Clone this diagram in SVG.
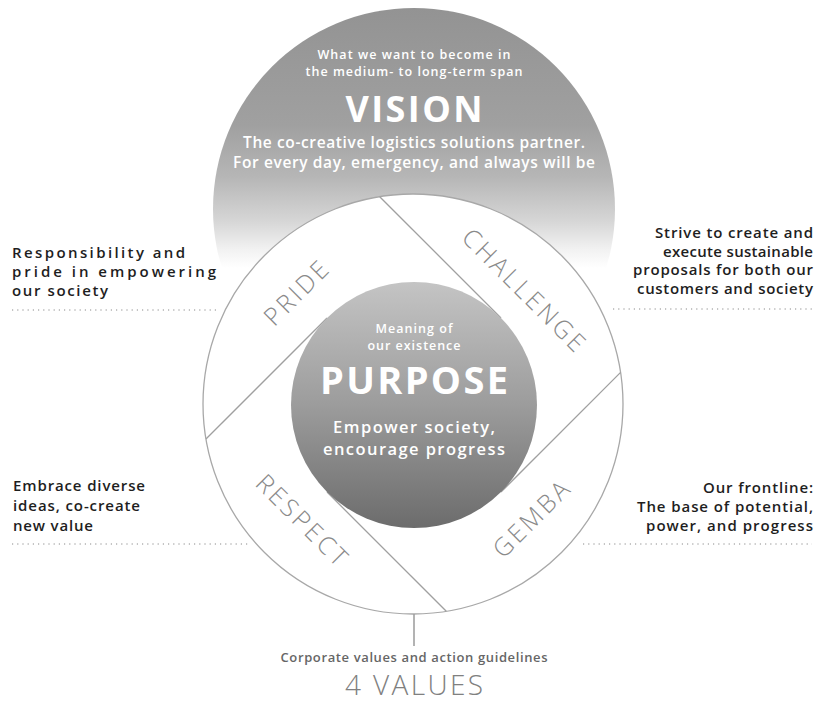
<svg xmlns="http://www.w3.org/2000/svg" width="816" height="703" viewBox="0 0 816 703">
  <defs>
    <linearGradient id="visionFill" gradientUnits="userSpaceOnUse" x1="0" y1="8" x2="0" y2="268">
      <stop offset="0" stop-color="#939393"/>
      <stop offset="0.45" stop-color="#a0a0a0"/>
      <stop offset="0.65" stop-color="#b6b6b6"/>
      <stop offset="0.82" stop-color="#d6d6d6"/>
      <stop offset="0.93" stop-color="#f2f2f2"/>
      <stop offset="1" stop-color="#ffffff"/>
    </linearGradient>
    <linearGradient id="purposeFill" gradientUnits="userSpaceOnUse" x1="0" y1="282" x2="0" y2="528">
      <stop offset="0" stop-color="#c4c4c4"/>
      <stop offset="0.5" stop-color="#9c9c9c"/>
      <stop offset="1" stop-color="#6c6c6c"/>
    </linearGradient>
    <style>
      text { font-family: "Open Sans", "Liberation Sans", sans-serif; }
      .side { font-size: 15px; font-weight: 600; fill: #1e1e1e; }
      .end { text-anchor: end; }
      .mid { text-anchor: middle; }
      .inv { fill: #ffffff; font-weight: 600; text-anchor: middle; }
      .small { font-size: 12.5px; }
      .body { font-size: 15.5px; }
      .head { font-weight: 700; }
      .ring { font-size: 25px; font-weight: 300; letter-spacing: 3px; fill: #8a8a8a; text-anchor: middle; }
      .divider { stroke: #a0a0a0; stroke-width: 1.3; fill: none; }
      .dots { stroke: #8a8a8a; stroke-width: 1; stroke-dasharray: 1.2 4; fill: none; }
      .stem { stroke: #a0a0a0; stroke-width: 1.6; }
    </style>
  </defs>

  <rect width="816" height="703" fill="#ffffff"/>

  <!-- vision disc, fading out towards the bottom -->
  <g id="vision">
    <circle cx="414" cy="209" r="201" fill="url(#visionFill)"/>
    <text class="inv small" x="414" y="59" textLength="193" lengthAdjust="spacing">What we want to become in</text>
    <text class="inv small" x="414" y="76" textLength="217" lengthAdjust="spacing">the medium- to long-term span</text>
    <text class="inv head" x="414" y="122" font-size="36" textLength="137" lengthAdjust="spacing">VISION</text>
    <text class="inv body" x="414" y="148" textLength="342" lengthAdjust="spacing">The co-creative logistics solutions partner.</text>
    <text class="inv body" x="414" y="168" textLength="362" lengthAdjust="spacing">For every day, emergency, and always will be</text>
  </g>

  <!-- ring holding the four values -->
  <g id="values-ring">
    <circle cx="413" cy="404" r="210" fill="#ffffff" stroke="#a8a8a8" stroke-width="1.3"/>
  </g>

  <g id="connectors">
    <!-- dividers, each tangent to the purpose disc -->
    <line class="divider" x1="379.7" y1="196.7" x2="501" y2="318"/>
    <line class="divider" x1="206" y1="439" x2="327" y2="318"/>
    <line class="divider" x1="620.6" y1="372.4" x2="501" y2="492"/>
    <line class="divider" x1="446.3" y1="611.3" x2="327" y2="492"/>
    <!-- dotted leaders under the notes -->
    <line class="dots" x1="12" y1="310" x2="216" y2="310"/>
    <line class="dots" x1="613" y1="309" x2="812" y2="309"/>
    <line class="dots" x1="12" y1="544" x2="248" y2="544"/>
    <line class="dots" x1="583" y1="544" x2="812" y2="544"/>
    <!-- stem to the caption -->
    <line class="stem" x1="414" y1="614" x2="414" y2="646"/>
  </g>

  <g id="purpose">
    <circle cx="414" cy="405" r="123" fill="url(#purposeFill)"/>
    <text class="inv" x="414" y="333" font-size="12.5" textLength="77" lengthAdjust="spacing">Meaning of</text>
    <text class="inv" x="414" y="350" font-size="12.5" textLength="93" lengthAdjust="spacing">our existence</text>
    <text class="inv head" x="414" y="394" font-size="38" textLength="188" lengthAdjust="spacing">PURPOSE</text>
    <text class="inv" x="414" y="433" font-size="16.5" textLength="162" lengthAdjust="spacing">Empower society,</text>
    <text class="inv" x="414" y="455" font-size="16.5" textLength="182" lengthAdjust="spacing">encourage progress</text>
  </g>

  <g id="pride">
    <text class="ring" transform="translate(297,292) rotate(-45)" y="9">PRIDE</text>
  </g>
  <g id="challenge">
    <text class="ring" transform="translate(525,291) rotate(45)" y="9">CHALLENGE</text>
  </g>
  <g id="respect">
    <text class="ring" transform="translate(303,521) rotate(45)" y="9">RESPECT</text>
  </g>
  <g id="gemba">
    <text class="ring" transform="translate(532,518) rotate(-45)" y="9">GEMBA</text>
  </g>

  <g id="note-pride">
    <text class="side" x="12" y="258" textLength="173" lengthAdjust="spacing">Responsibility and</text>
    <text class="side" x="12" y="277" textLength="204" lengthAdjust="spacing">pride in empowering</text>
    <text class="side" x="12" y="296" textLength="96" lengthAdjust="spacing">our society</text>
  </g>
  <g id="note-challenge">
    <text class="side end" x="813" y="238" textLength="158" lengthAdjust="spacing">Strive to create and</text>
    <text class="side end" x="813" y="256.5" textLength="150" lengthAdjust="spacing">execute sustainable</text>
    <text class="side end" x="813" y="275" textLength="180" lengthAdjust="spacing">proposals for both our</text>
    <text class="side end" x="813" y="293.5" textLength="176" lengthAdjust="spacing">customers and society</text>
  </g>
  <g id="note-respect">
    <text class="side" x="13" y="491" textLength="132" lengthAdjust="spacing">Embrace diverse</text>
    <text class="side" x="13" y="511" textLength="127" lengthAdjust="spacing">ideas, co-create</text>
    <text class="side" x="13" y="531" textLength="80" lengthAdjust="spacing">new value</text>
  </g>
  <g id="note-gemba">
    <text class="side end" x="813" y="492.5" textLength="110" lengthAdjust="spacing">Our frontline:</text>
    <text class="side end" x="813" y="511.5" textLength="176" lengthAdjust="spacing">The base of potential,</text>
    <text class="side end" x="813" y="530.5" textLength="167" lengthAdjust="spacing">power, and progress</text>
  </g>

  <g id="values-caption">
    <text class="mid" x="414" y="662" font-size="13" font-weight="600" fill="#666666" textLength="267" lengthAdjust="spacing">Corporate values and action guidelines</text>
    <text class="mid" x="414" y="695" font-size="28" font-weight="300" fill="#808080" textLength="138" lengthAdjust="spacing">4 VALUES</text>
  </g>
</svg>
